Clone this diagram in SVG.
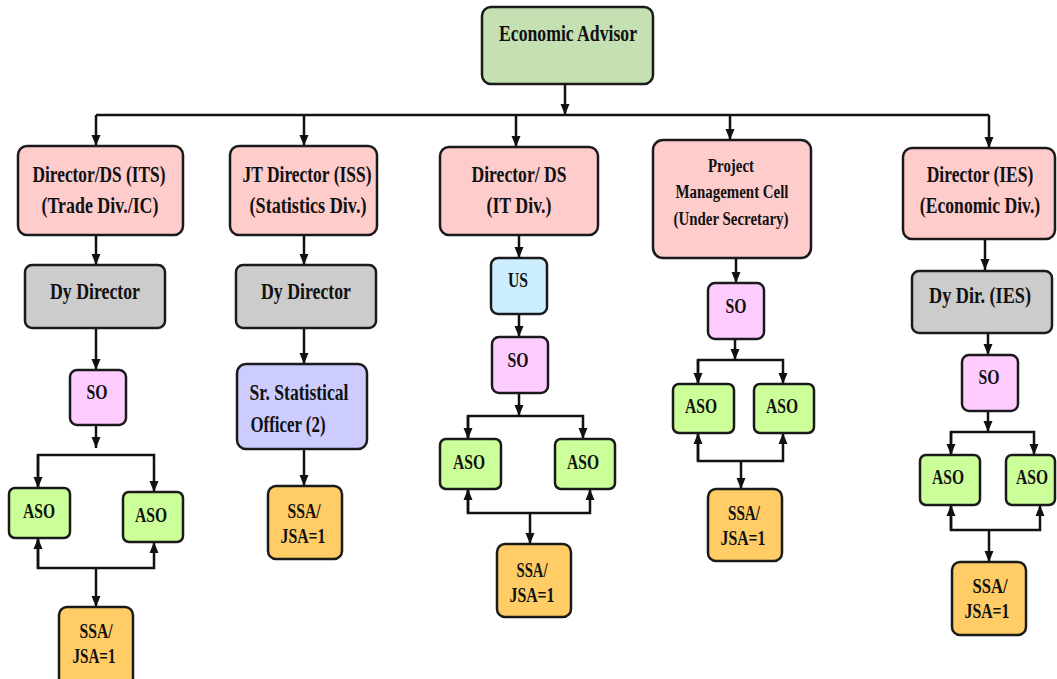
<svg xmlns="http://www.w3.org/2000/svg" width="1057" height="679" viewBox="0 0 1057 679">
<defs>
<marker id="ah" markerUnits="userSpaceOnUse" markerWidth="12" markerHeight="12" viewBox="0 0 12 12" refX="11" refY="6" orient="auto">
<path d="M0,1.5 L11,6 L0,10.5 z" fill="#111"/>
</marker>
<style>
.b{stroke:#1a1a1a;stroke-width:2.5}
.g{fill:#c5e0b3}.p{fill:#ffcccc}.gr{fill:#cccccc}.m{fill:#ffccff}.a{fill:#ccff99}.s{fill:#ffcc66}.u{fill:#cceeff}.l{fill:#ccccff}
text{font-family:"Liberation Serif","Times New Roman",serif;font-weight:bold;fill:#111;text-anchor:middle}
.t22{font-size:23px}.t20{font-size:21px}.t18{font-size:18px}
.c{fill:none;stroke:#111;stroke-width:2.5}
</style>
</defs>
<rect width="1057" height="679" fill="#fff"/>
<g id="connectors">
<path class="c" d="M565,84 V115" marker-end="url(#ah)"/>
<path class="c" d="M96,115 H989"/>
<path class="c" d="M96,115 V146" marker-end="url(#ah)"/>
<path class="c" d="M304,115 V146" marker-end="url(#ah)"/>
<path class="c" d="M516,115 V147" marker-end="url(#ah)"/>
<path class="c" d="M730,115 V140" marker-end="url(#ah)"/>
<path class="c" d="M989,115 V148" marker-end="url(#ah)"/>
<path class="c" d="M96,235 V265" marker-end="url(#ah)"/>
<path class="c" d="M304,235 V265" marker-end="url(#ah)"/>
<path class="c" d="M519,234 V258" marker-end="url(#ah)"/>
<path class="c" d="M736,258 V283" marker-end="url(#ah)"/>
<path class="c" d="M985,239 V270" marker-end="url(#ah)"/>
<path class="c" d="M96,328 V370" marker-end="url(#ah)"/>
<path class="c" d="M304,328 V364" marker-end="url(#ah)"/>
<path class="c" d="M519,314 V337" marker-end="url(#ah)"/>
<path class="c" d="M988,333 V355" marker-end="url(#ah)"/>
<path class="c" d="M96,425 V448" marker-end="url(#ah)"/>
<path class="c" d="M38,488 V455 H154 V492" marker-end="url(#ah)"/>
<path class="c" d="M38,455 V488" marker-end="url(#ah)"/>
<path class="c" d="M38,538 V568 H154 V542" marker-end="url(#ah)"/>
<path class="c" d="M38,568 V538" marker-end="url(#ah)"/>
<path class="c" d="M96,568 V607" marker-end="url(#ah)"/>
<path class="c" d="M304,449 V486" marker-end="url(#ah)"/>
<path class="c" d="M519,393 V416" marker-end="url(#ah)"/>
<path class="c" d="M468,439 V416 H583 V439" marker-end="url(#ah)"/>
<path class="c" d="M468,416 V439" marker-end="url(#ah)"/>
<path class="c" d="M468,489 V513 H590 V489" marker-end="url(#ah)"/>
<path class="c" d="M468,513 V489" marker-end="url(#ah)"/>
<path class="c" d="M530,513 V544" marker-end="url(#ah)"/>
<path class="c" d="M735,339 V360" marker-end="url(#ah)"/>
<path class="c" d="M698,384 V360 H783 V384" marker-end="url(#ah)"/>
<path class="c" d="M698,360 V384" marker-end="url(#ah)"/>
<path class="c" d="M698,433 V461 H783 V433" marker-end="url(#ah)"/>
<path class="c" d="M698,461 V433" marker-end="url(#ah)"/>
<path class="c" d="M741,461 V489" marker-end="url(#ah)"/>
<path class="c" d="M988,411 V432" marker-end="url(#ah)"/>
<path class="c" d="M951,455 V432 H1034 V455" marker-end="url(#ah)"/>
<path class="c" d="M951,432 V455" marker-end="url(#ah)"/>
<path class="c" d="M951,505 V530 H1040 V505" marker-end="url(#ah)"/>
<path class="c" d="M951,530 V505" marker-end="url(#ah)"/>
<path class="c" d="M989,530 V562" marker-end="url(#ah)"/>
</g>
<g id="ea"><rect class="b g" x="482" y="7" width="171" height="77" rx="9"/><text class="t22" x="568" y="41" textLength="138" lengthAdjust="spacingAndGlyphs">Economic Advisor</text></g>
<g id="dir-its"><rect class="b p" x="18" y="146" width="165" height="89" rx="9"/><text class="t22" x="99" y="182" textLength="133" lengthAdjust="spacingAndGlyphs">Director/DS (ITS)</text><text class="t22" x="100" y="213" textLength="117" lengthAdjust="spacingAndGlyphs">(Trade Div./IC)</text></g>
<g id="jt-dir"><rect class="b p" x="230" y="146" width="147" height="89" rx="9"/><text class="t22" x="307" y="182" textLength="129" lengthAdjust="spacingAndGlyphs">JT Director (ISS)</text><text class="t22" x="308" y="213" textLength="117" lengthAdjust="spacingAndGlyphs">(Statistics Div.)</text></g>
<g id="dir-it"><rect class="b p" x="440" y="147" width="158" height="88" rx="9"/><text class="t22" x="519" y="182" textLength="95" lengthAdjust="spacingAndGlyphs">Director/ DS</text><text class="t22" x="519" y="213" textLength="65" lengthAdjust="spacingAndGlyphs">(IT Div.)</text></g>
<g id="pmc"><rect class="b p" x="653" y="140" width="158" height="118" rx="10"/><text class="t18" x="731" y="172" textLength="46" lengthAdjust="spacingAndGlyphs">Project</text><text class="t18" x="732" y="198" textLength="113" lengthAdjust="spacingAndGlyphs">Management Cell</text><text class="t18" x="731" y="225" textLength="115" lengthAdjust="spacingAndGlyphs">(Under Secretary)</text></g>
<g id="dir-ies"><rect class="b p" x="903" y="148" width="152" height="91" rx="9"/><text class="t22" transform="translate(980,182) scale(0.76,1)">Director (IES)</text><text class="t22" transform="translate(980,213) scale(0.766,1)">(Economic Div.)</text></g>
<g id="dy-dir-1"><rect class="b gr" x="25" y="265" width="140" height="63" rx="7"/><text class="t22" x="95" y="299" textLength="90" lengthAdjust="spacingAndGlyphs">Dy Director</text></g>
<g id="dy-dir-2"><rect class="b gr" x="236" y="265" width="140" height="63" rx="7"/><text class="t22" x="306" y="299" textLength="90" lengthAdjust="spacingAndGlyphs">Dy Director</text></g>
<g id="us"><rect class="b u" x="491" y="258" width="56" height="56" rx="7"/><text class="t20" x="518" y="287" textLength="20" lengthAdjust="spacingAndGlyphs">US</text></g>
<g id="so-pmc"><rect class="b m" x="708" y="283" width="56" height="56" rx="7"/><text class="t20" x="736" y="313" textLength="21" lengthAdjust="spacingAndGlyphs">SO</text></g>
<g id="dy-dir-ies"><rect class="b gr" x="912" y="271" width="140" height="62" rx="7"/><text class="t22" x="980" y="303" textLength="102" lengthAdjust="spacingAndGlyphs">Dy Dir. (IES)</text></g>
<g id="so-1"><rect class="b m" x="70" y="370" width="56" height="55" rx="7"/><text class="t20" x="97" y="399" textLength="21" lengthAdjust="spacingAndGlyphs">SO</text></g>
<g id="sso"><rect class="b l" x="237" y="364" width="130" height="85" rx="9"/><text class="t22" x="299" y="400" textLength="99" lengthAdjust="spacingAndGlyphs">Sr. Statistical</text><text class="t22" x="288" y="432" textLength="75" lengthAdjust="spacingAndGlyphs">Officer (2)</text></g>
<g id="so-3"><rect class="b m" x="492" y="337" width="56" height="56" rx="7"/><text class="t20" x="518" y="367" textLength="21" lengthAdjust="spacingAndGlyphs">SO</text></g>
<g id="so-ies"><rect class="b m" x="962" y="355" width="56" height="56" rx="7"/><text class="t20" x="989" y="384" textLength="21" lengthAdjust="spacingAndGlyphs">SO</text></g>
<g id="aso-1a"><rect class="b a" x="9" y="488" width="61" height="50" rx="6"/><text class="t20" x="39" y="518" textLength="32" lengthAdjust="spacingAndGlyphs">ASO</text></g>
<g id="aso-1b"><rect class="b a" x="123" y="492" width="60" height="50" rx="6"/><text class="t20" x="151" y="522" textLength="32" lengthAdjust="spacingAndGlyphs">ASO</text></g>
<g id="aso-3a"><rect class="b a" x="440" y="439" width="61" height="50" rx="6"/><text class="t20" x="469" y="469" textLength="32" lengthAdjust="spacingAndGlyphs">ASO</text></g>
<g id="aso-3b"><rect class="b a" x="555" y="439" width="60" height="50" rx="6"/><text class="t20" x="583" y="469" textLength="32" lengthAdjust="spacingAndGlyphs">ASO</text></g>
<g id="aso-4a"><rect class="b a" x="673" y="384" width="61" height="49" rx="6"/><text class="t20" x="701" y="413" textLength="32" lengthAdjust="spacingAndGlyphs">ASO</text></g>
<g id="aso-4b"><rect class="b a" x="754" y="384" width="60" height="49" rx="6"/><text class="t20" x="782" y="413" textLength="32" lengthAdjust="spacingAndGlyphs">ASO</text></g>
<g id="aso-5a"><rect class="b a" x="920" y="455" width="60" height="50" rx="6"/><text class="t20" x="948" y="484" textLength="32" lengthAdjust="spacingAndGlyphs">ASO</text></g>
<g id="aso-5b"><rect class="b a" x="1006" y="455" width="49" height="50" rx="6"/><text class="t20" transform="translate(1032,484) scale(0.74,1)">ASO</text></g>
<g id="ssa-1"><rect class="b s" x="59" y="607" width="74" height="80" rx="8"/><text class="t20" x="96" y="638" textLength="33" lengthAdjust="spacingAndGlyphs">SSA/</text><text class="t20" x="94" y="663" textLength="43" lengthAdjust="spacingAndGlyphs">JSA=1</text></g>
<g id="ssa-2"><rect class="b s" x="268" y="486" width="74" height="73" rx="8"/><text class="t20" x="304" y="518" textLength="33" lengthAdjust="spacingAndGlyphs">SSA/</text><text class="t20" x="303" y="543" textLength="45" lengthAdjust="spacingAndGlyphs">JSA=1</text></g>
<g id="ssa-3"><rect class="b s" x="497" y="544" width="74" height="73" rx="8"/><text class="t20" x="532" y="577" textLength="31" lengthAdjust="spacingAndGlyphs">SSA/</text><text class="t20" x="532" y="602" textLength="45" lengthAdjust="spacingAndGlyphs">JSA=1</text></g>
<g id="ssa-4"><rect class="b s" x="708" y="489" width="74" height="72" rx="8"/><text class="t20" x="744" y="520" textLength="32" lengthAdjust="spacingAndGlyphs">SSA/</text><text class="t20" x="743" y="545" textLength="45" lengthAdjust="spacingAndGlyphs">JSA=1</text></g>
<g id="ssa-5"><rect class="b s" x="952" y="562" width="74" height="73" rx="8"/><text class="t20" x="990" y="593" textLength="35" lengthAdjust="spacingAndGlyphs">SSA/</text><text class="t20" x="987" y="618" textLength="45" lengthAdjust="spacingAndGlyphs">JSA=1</text></g>
</svg>
